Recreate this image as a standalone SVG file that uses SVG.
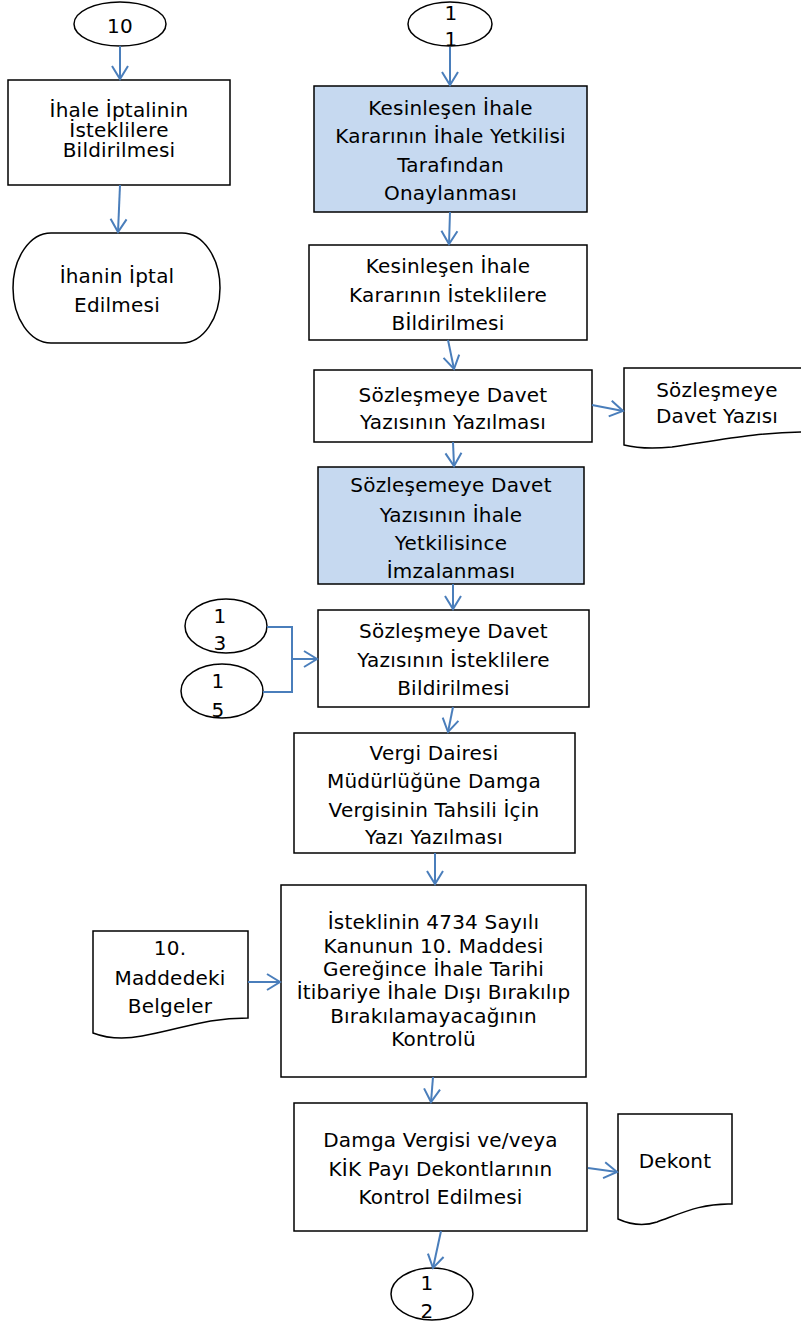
<svg xmlns="http://www.w3.org/2000/svg" width="801" height="1323" viewBox="0 0 801 1323">
<style>
.box{fill:#fff;stroke:#000;stroke-width:1.5}
.blue{fill:#C6D9F0;stroke:#000;stroke-width:1.5}
.t{font-family:"DejaVu Sans","Liberation Sans",sans-serif;font-size:20px;fill:#000;text-anchor:middle;letter-spacing:0.2px}
.c{fill:none;stroke:#4A7EBB;stroke-width:2}
</style>
<defs>
<marker id="ah" markerUnits="userSpaceOnUse" markerWidth="18" markerHeight="20" viewBox="0 0 18 20" refX="15" refY="10" orient="auto">
<path d="M2,2 L15,10 L2,18" fill="none" stroke="#4A7EBB" stroke-width="2"/>
</marker>
</defs>
<rect width="801" height="1323" fill="#fff"/>

<g id="conn-10">
<ellipse class="box" cx="120" cy="24" rx="46" ry="22"/>
<text class="t" x="120" y="33">10</text>
</g>
<g id="node-iptal-bildir">
<rect class="box" x="8" y="80" width="222" height="105"/>
<text class="t" x="119" y="117">İhale İptalinin</text>
<text class="t" x="119" y="137">İsteklilere</text>
<text class="t" x="119" y="157">Bildirilmesi</text>
</g>
<g id="node-iptal-end">
<rect class="box" x="13" y="233" width="207" height="110" rx="38" ry="55"/>
<text class="t" x="117" y="283">İhanin İptal</text>
<text class="t" x="117" y="312">Edilmesi</text>
</g>

<g id="conn-11">
<ellipse class="box" cx="450" cy="24" rx="42" ry="22"/>
<text class="t" x="451" y="20">1</text>
<text class="t" x="451" y="46">1</text>
</g>
<g id="node-onay">
<rect class="blue" x="314" y="86" width="273" height="126"/>
<text class="t" x="450.5" y="115">Kesinleşen İhale</text>
<text class="t" x="450.5" y="143">Kararının İhale Yetkilisi</text>
<text class="t" x="450.5" y="172">Tarafından</text>
<text class="t" x="450.5" y="200">Onaylanması</text>
</g>
<g id="node-bildir">
<rect class="box" x="309" y="245" width="278" height="95"/>
<text class="t" x="448" y="273">Kesinleşen İhale</text>
<text class="t" x="448" y="302">Kararının İsteklilere</text>
<text class="t" x="448" y="330">Bİldirilmesi</text>
</g>
<g id="node-davet-yaz">
<rect class="box" x="314" y="370" width="278" height="72"/>
<text class="t" x="453" y="402">Sözleşmeye Davet</text>
<text class="t" x="453" y="429">Yazısının Yazılması</text>
</g>
<g id="doc-davet">
<path class="box" d="M624,368 H806 V432 C760,432 720,440 672,447 C652,449 636,448 624,445 Z"/>
<text class="t" x="717" y="397">Sözleşmeye</text>
<text class="t" x="717" y="423">Davet Yazısı</text>
</g>
<g id="node-imza">
<rect class="blue" x="318" y="467" width="266" height="117"/>
<text class="t" x="451" y="492">Sözleşemeye Davet</text>
<text class="t" x="451" y="522">Yazısının İhale</text>
<text class="t" x="451" y="550">Yetkilisince</text>
<text class="t" x="451" y="578">İmzalanması</text>
</g>
<g id="conn-13">
<ellipse class="box" cx="226" cy="626" rx="41" ry="27"/>
<text class="t" x="220" y="623">1</text>
<text class="t" x="220" y="650">3</text>
</g>
<g id="conn-15">
<ellipse class="box" cx="222" cy="691" rx="41" ry="27"/>
<text class="t" x="218" y="688">1</text>
<text class="t" x="218" y="717">5</text>
</g>
<g id="node-davet-bildir">
<rect class="box" x="318" y="610" width="271" height="97"/>
<text class="t" x="453.5" y="638">Sözleşmeye Davet</text>
<text class="t" x="453.5" y="667">Yazısının İsteklilere</text>
<text class="t" x="453.5" y="695">Bildirilmesi</text>
</g>
<g id="node-vergi">
<rect class="box" x="294" y="733" width="281" height="120"/>
<text class="t" x="434" y="760">Vergi Dairesi</text>
<text class="t" x="434" y="788">Müdürlüğüne Damga</text>
<text class="t" x="434" y="817">Vergisinin Tahsili İçin</text>
<text class="t" x="434" y="844">Yazı Yazılması</text>
</g>
<g id="doc-belgeler">
<path class="box" d="M93,931 H248 V1018 C205,1018 182,1029 142,1036 C122,1040 106,1038 93,1033 Z"/>
<text class="t" x="170" y="955">10.</text>
<text class="t" x="170" y="985">Maddedeki</text>
<text class="t" x="170" y="1013">Belgeler</text>
</g>
<g id="node-kontrol">
<rect class="box" x="281" y="885" width="305" height="192"/>
<text class="t" x="433.5" y="929">İsteklinin 4734 Sayılı</text>
<text class="t" x="433.5" y="953">Kanunun 10. Maddesi</text>
<text class="t" x="433.5" y="976">Gereğince İhale Tarihi</text>
<text class="t" x="433.5" y="999">İtibariye İhale Dışı Bırakılıp</text>
<text class="t" x="433.5" y="1023">Bırakılamayacağının</text>
<text class="t" x="433.5" y="1046">Kontrolü</text>
</g>
<g id="node-dekont-kontrol">
<rect class="box" x="294" y="1103" width="293" height="128"/>
<text class="t" x="440.5" y="1147">Damga Vergisi ve/veya</text>
<text class="t" x="440.5" y="1176">KİK Payı Dekontlarının</text>
<text class="t" x="440.5" y="1204">Kontrol Edilmesi</text>
</g>
<g id="doc-dekont">
<path class="box" d="M618,1114 H732 V1204 C702,1203 682,1213 657,1222 C642,1227 629,1224 618,1219 Z"/>
<text class="t" x="675" y="1168">Dekont</text>
</g>
<g id="conn-12">
<ellipse class="box" cx="432" cy="1294" rx="41" ry="26"/>
<text class="t" x="427" y="1290">1</text>
<text class="t" x="427" y="1318">2</text>
</g>

<g id="connectors">
<line class="c" x1="120" y1="46" x2="120" y2="79" marker-end="url(#ah)"/>
<line class="c" x1="120" y1="185" x2="118" y2="232" marker-end="url(#ah)"/>
<line class="c" x1="450" y1="47" x2="450" y2="85" marker-end="url(#ah)"/>
<line class="c" x1="450" y1="212" x2="449" y2="244" marker-end="url(#ah)"/>
<line class="c" x1="448" y1="340" x2="454" y2="369" marker-end="url(#ah)"/>
<line class="c" x1="592" y1="405" x2="623" y2="411" marker-end="url(#ah)"/>
<line class="c" x1="453" y1="442" x2="454" y2="466" marker-end="url(#ah)"/>
<line class="c" x1="453" y1="584" x2="453" y2="609" marker-end="url(#ah)"/>
<polyline class="c" points="267,627 292,627 292,692 263,692"/>
<line class="c" x1="292" y1="659" x2="317" y2="659" marker-end="url(#ah)"/>
<line class="c" x1="453" y1="707" x2="448" y2="732" marker-end="url(#ah)"/>
<line class="c" x1="435" y1="853" x2="435" y2="884" marker-end="url(#ah)"/>
<line class="c" x1="248" y1="982" x2="280" y2="982" marker-end="url(#ah)"/>
<line class="c" x1="433" y1="1077" x2="431" y2="1102" marker-end="url(#ah)"/>
<line class="c" x1="588" y1="1168" x2="617" y2="1172" marker-end="url(#ah)"/>
<line class="c" x1="441" y1="1231" x2="433" y2="1268" marker-end="url(#ah)"/>
</g>
</svg>
